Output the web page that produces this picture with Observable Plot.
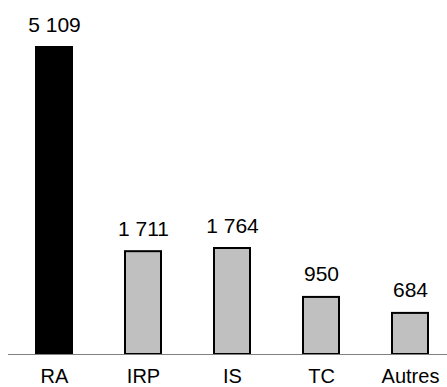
<!DOCTYPE html>
<html>
<head>
<meta charset="utf-8">
<script src="https://cdn.jsdelivr.net/npm/d3@7"></script>
<script src="https://cdn.jsdelivr.net/npm/@observablehq/plot@0.6"></script>
<style>
  html, body { margin: 0; padding: 0; background: #fff; }
</style>
</head>
<body>
<div id="chart"></div>
<script>
const categories = ["RA", "IRP", "IS", "TC", "Autres"];
const values = [5109, 1711, 1764, 950, 684];
const fills = ["#000000", "#c0c0c0", "#c0c0c0", "#c0c0c0", "#c0c0c0"];

const data = categories.map((c, i) => ({ cat: c, value: values[i], fill: fills[i] }));
const fmt = d3.formatLocale({ decimal: ",", thousands: "\u00a0", grouping: [3], currency: ["", "€"] }).format(",d");

const chart = Plot.plot({
  width: 447,
  height: 387,
  marginLeft: 8,
  marginRight: 0,
  marginTop: 0,
  marginBottom: 33,
  style: { fontFamily: "'Liberation Sans', Arial, sans-serif", fontSize: "20px", color: "#000", background: "#fff" },
  x: { domain: categories, range: [7, 456], paddingInner: 0.6, paddingOuter: 0.3, label: null },
  y: { domain: [0, 5109], range: [354, 47], axis: null },
  marks: [
    Plot.axisX({ tickSize: 0, tickPadding: 14, fontSize: 20, label: null }),
    Plot.barY(data, { x: "cat", y: "value", fill: "fill", stroke: "#000", strokeWidth: 2 }),
    Plot.ruleY([0], { stroke: "#808080", strokeWidth: 1 }),
    Plot.text(data, { x: "cat", y: "value", text: d => fmt(d.value), dy: -16, lineAnchor: "bottom", fontSize: 21, fill: "#000" })
  ]
});
document.getElementById("chart").appendChild(chart);
</script>
</body>
</html>
